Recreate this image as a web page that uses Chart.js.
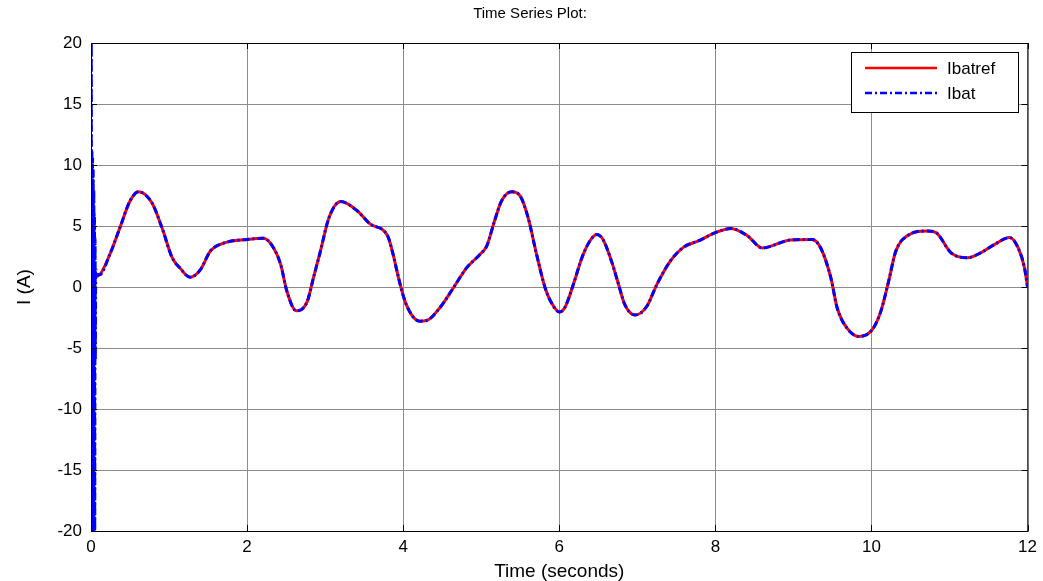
<!DOCTYPE html>
<html>
<head>
<meta charset="utf-8">
<script src="https://cdn.jsdelivr.net/npm/chart.js@4.4.1/dist/chart.umd.min.js"></script>
<style>
  html, body { margin: 0; padding: 0; background: #fff; }
  #wrap { width: 1043px; height: 581px; }
</style>
</head>
<body>
<div id="wrap"><canvas id="chart" width="1043" height="581"></canvas></div>
<script>
/* Time Series Plot: Ibatref vs Ibat */

// reference current (seconds, amps)
const refTime = [0, 0.11, 0.24, 0.37, 0.5, 0.61, 0.78, 0.91, 1.04, 1.14, 1.27, 1.4, 1.53, 1.7, 2.0,
  2.21, 2.34, 2.43, 2.51, 2.63, 2.77, 2.85, 2.94, 3.05, 3.2, 3.41, 3.58, 3.8, 3.87, 3.95, 4.04,
  4.21, 4.3, 4.47, 4.64, 4.81, 4.98, 5.07, 5.17, 5.26, 5.39, 5.5, 5.6, 5.71, 5.82, 5.9, 6.0,
  6.07, 6.18, 6.29, 6.39, 6.48, 6.56, 6.67, 6.76, 6.84, 6.97, 7.12, 7.25, 7.42, 7.59, 7.79, 8.0,
  8.2, 8.41, 8.6, 8.96, 9.24, 9.35, 9.48, 9.56, 9.69, 9.84, 10.01, 10.12, 10.22, 10.31, 10.46,
  10.72, 10.83, 11.02, 11.23, 11.4, 11.58, 11.77, 11.88, 11.96, 12.0];
const refVals = [0.75, 1.0, 2.65, 4.85, 7.05, 7.8, 6.9, 4.85, 2.4, 1.55, 0.8, 1.4, 2.95, 3.6, 3.9,
  4.0, 3.2, 1.85, -0.35, -1.95, -1.2, 0.75, 2.95, 5.7, 7.0, 6.25, 5.15, 4.2, 2.7, 0.5, -1.45,
  -2.8, -2.75, -1.7, -0.1, 1.55, 2.65, 3.35, 5.4, 7.05, 7.8, 7.45, 5.7, 2.65, -0.1, -1.3, -2.05,
  -1.7, 0.2, 2.4, 3.75, 4.3, 3.9, 2.1, 0.2, -1.45, -2.3, -1.6, 0.2, 2.1, 3.25, 3.8, 4.45,
  4.8, 4.2, 3.2, 3.85, 3.9, 3.2, 0.75, -1.7, -3.4, -4.06, -3.5, -2.0, 0.47, 2.9, 4.2,
  4.6, 4.45, 2.8, 2.4, 2.8, 3.5, 4.05, 3.2, 1.6, 0.0];

// start-up transient of the measured current, before it follows the reference
const spikeTime = [0, 0.004, 0.008, 0.012, 0.016, 0.02, 0.024, 0.028, 0.032, 0.036, 0.04,
  0.044, 0.048, 0.052, 0.056, 0.06, 0.08];
const spikeVals = [-20, 20, -20, 11, -20, 10.5, -20, 9.5, -20, 8, -20, 6, -20, 4, -6, 1.5, 1.0];

const xTicks = [0, 2, 4, 6, 8, 10, 12];
const yTicks = [-20, -15, -10, -5, 0, 5, 10, 15, 20];

const seriesNames = ['Ibatref', 'Ibat'];
const seriesColors = ['#ff0000', '#0000ff'];

const refPoints = refTime.map((t, i) => ({ x: t, y: refVals[i] }));
const batPoints = spikeTime.map((t, i) => ({ x: t, y: spikeVals[i] }))
  .concat(refPoints.filter(p => p.x > 0.1));

const FONT = "'Liberation Sans', Arial, sans-serif";
const BLUE_DASH = [7, 3, 2, 3];

/* box, inward ticks, title and legend, drawn MATLAB style */
const framePlugin = {
  id: 'frame',
  afterDraw(chart) {
    const { ctx, chartArea: a, scales } = chart;
    ctx.save();
    ctx.strokeStyle = '#000';
    ctx.lineWidth = 1;
    ctx.strokeRect(a.left + 0.5, a.top + 0.5, a.right - a.left, a.bottom - a.top);

    ctx.beginPath();
    xTicks.forEach(v => {
      const px = Math.round(scales.x.getPixelForValue(v)) + 0.5;
      ctx.moveTo(px, a.top); ctx.lineTo(px, a.top + 6);
      ctx.moveTo(px, a.bottom); ctx.lineTo(px, a.bottom - 6);
    });
    yTicks.forEach(v => {
      const py = Math.round(scales.y.getPixelForValue(v)) + 0.5;
      ctx.moveTo(a.left, py); ctx.lineTo(a.left + 6, py);
      ctx.moveTo(a.right, py); ctx.lineTo(a.right - 6, py);
    });
    ctx.stroke();

    // title
    ctx.fillStyle = '#000';
    ctx.font = '15px ' + FONT;
    ctx.textAlign = 'center';
    ctx.textBaseline = 'middle';
    ctx.fillText('Time Series Plot:', 530, 14);

    // legend box
    const lx = 851, ly = 52, lw = 167, lh = 60;
    ctx.fillStyle = '#fff';
    ctx.fillRect(lx, ly, lw, lh);
    ctx.strokeRect(lx + 0.5, ly + 0.5, lw, lh);
    ctx.font = '17px ' + FONT;
    ctx.textAlign = 'left';
    seriesNames.forEach((name, i) => {
      const y = ly + 16 + i * 25;
      ctx.beginPath();
      ctx.strokeStyle = seriesColors[i];
      ctx.lineWidth = 2.5;
      ctx.setLineDash(i === 1 ? BLUE_DASH : []);
      ctx.moveTo(865, y); ctx.lineTo(937, y);
      ctx.stroke();
      ctx.setLineDash([]);
      ctx.fillStyle = '#000';
      ctx.fillText(name, 947, y + 1);
    });
    ctx.restore();
  }
};

new Chart(document.getElementById('chart'), {
  type: 'line',
  data: {
    datasets: [
      {
        label: seriesNames[1],
        data: batPoints,
        borderColor: seriesColors[1],
        borderWidth: 3,
        borderDash: BLUE_DASH,
        pointRadius: 0,
        cubicInterpolationMode: 'monotone',
        order: 0
      },
      {
        label: seriesNames[0],
        data: refPoints,
        borderColor: seriesColors[0],
        borderWidth: 3,
        pointRadius: 0,
        cubicInterpolationMode: 'monotone',
        order: 1
      }
    ]
  },
  options: {
    responsive: false,
    animation: false,
    layout: { padding: { top: 43, right: 15, left: 0, bottom: 0 } },
    plugins: {
      legend: { display: false },
      title: { display: false },
      tooltip: { enabled: false }
    },
    scales: {
      x: {
        type: 'linear',
        min: 0, max: 12,
        afterFit: s => { s.height = 50; },
        afterBuildTicks: s => { s.ticks = xTicks.map(v => ({ value: v })); },
        grid: { color: '#8c8c8c', lineWidth: 1, drawTicks: false },
        border: { display: false },
        ticks: { color: '#000', font: { size: 17, family: FONT }, padding: 6, maxRotation: 0 },
        title: { display: true, text: 'Time (seconds)', color: '#000',
                 font: { size: 19, family: FONT, lineHeight: 1.0 }, padding: { top: 0, bottom: 0 } }
      },
      y: {
        min: -20, max: 20,
        afterFit: s => { s.width = 91; },
        afterBuildTicks: s => { s.ticks = yTicks.map(v => ({ value: v })); },
        grid: { color: '#8c8c8c', lineWidth: 1, drawTicks: false },
        border: { display: false },
        ticks: { color: '#000', font: { size: 17, family: FONT }, padding: 9 },
        title: { display: true, text: 'I (A)', color: '#000',
                 font: { size: 19, family: FONT, lineHeight: 1.0 }, padding: { top: 15, bottom: 0 } }
      }
    }
  },
  plugins: [framePlugin]
});
</script>
</body>
</html>
